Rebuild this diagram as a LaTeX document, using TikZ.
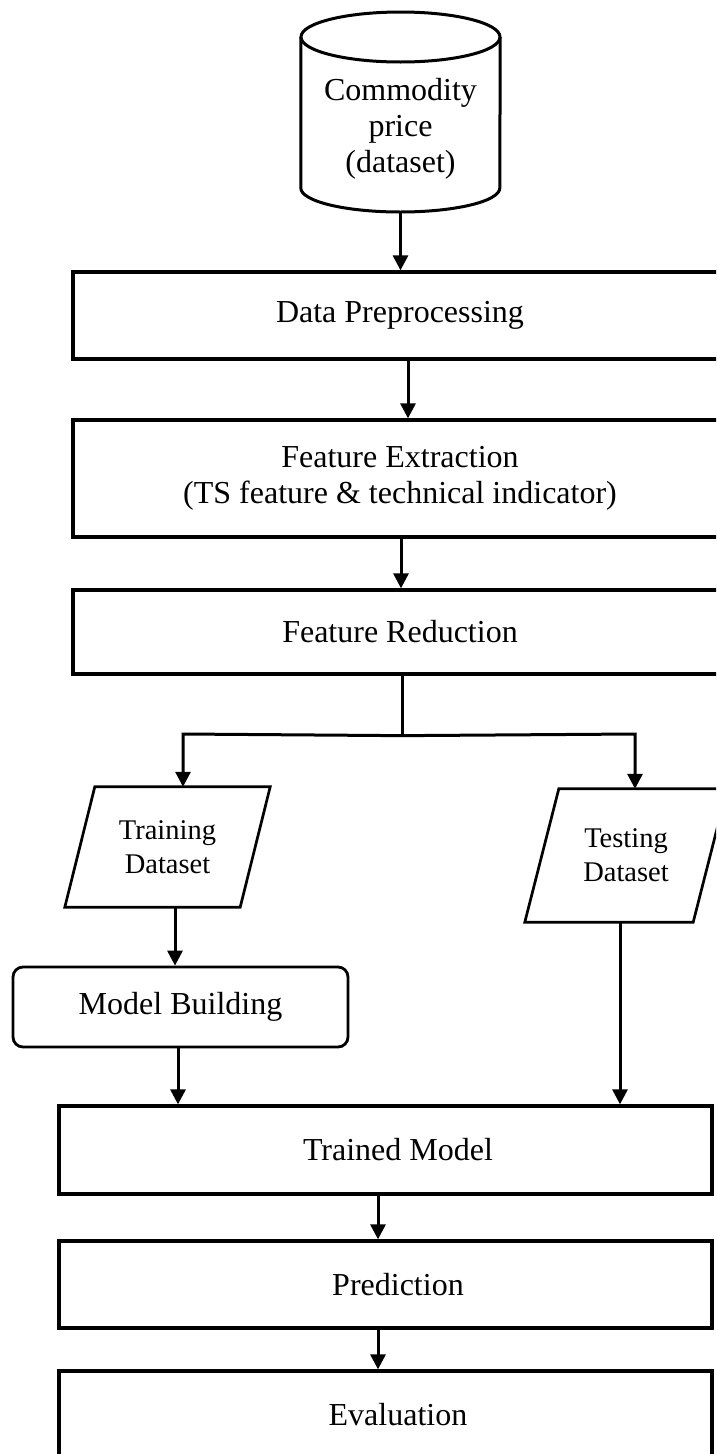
\documentclass[tikz,border=0pt]{standalone}
\usepackage{fontspec}
\setmainfont{Liberation Serif}
\usetikzlibrary{arrows.meta,calc}
\begin{document}
\begin{tikzpicture}[x=1pt,y=1pt,
  every node/.style={inner sep=0pt},
  bigtext/.style={font=\fontsize{32}{36}\selectfont, align=center},
  smalltext/.style={font=\fontsize{28.5}{34}\selectfont, align=center},
  stagebox/.style={bigtext, draw, line width=3.3pt},
  roundbox/.style={bigtext, draw, line width=2.8pt, rounded corners=10pt},
  outline/.style={line width=2.7pt, line join=miter},
  link/.style={line width=3pt},
  flow/.style={link, -{Triangle[width=15pt,length=15pt]}},
]
\fill[white] (0,0) rectangle (716,-1454);
\useasboundingbox (0,0) rectangle (716,-1454);
\clip (0,0) rectangle (716,-1454);

% source database (cylinder)
\node[minimum width=199pt, minimum height=200pt] (cyl) at (400.5,-112) {};
\node[bigtext] (cyltxt) at (400.5,-129) {Commodity\\price\\(dataset)};
\draw[link] (400.5,-37) ellipse [x radius=99.5, y radius=25];
\draw[link] (cyl.west |- 0,-37) -- (cyl.west |- 0,-188)
  arc[start angle=180, end angle=360, x radius=99.5, y radius=24]
  -- (cyl.east |- 0,-37);

% processing stages
\node[stagebox, minimum width=654pt, minimum height=87pt] (dp) at (400,-315.5) {\raisebox{-4pt}{Data Preprocessing}};
\node[stagebox, minimum width=654pt, minimum height=117pt] (fe) at (400,-478.5)
  {\raisebox{-4pt}{Feature Extraction}\\\raisebox{-4pt}{(TS feature \& technical indicator)}};
\node[stagebox, minimum width=654pt, minimum height=84pt] (fr) at (400,-632) {Feature Reduction};

% data sets (parallelograms)
\node[smalltext, minimum width=175pt, minimum height=120pt] (trn) at (167.5,-847) {\raisebox{-3pt}{Training}\\\raisebox{-3pt}{Dataset}};
\draw[outline] ($(trn.north west)+(15,0)$) -- ($(trn.north east)+(15,0)$)
  -- ($(trn.south east)+(-15,0)$) -- ($(trn.south west)+(-15,0)$) -- cycle;
\node[smalltext, minimum width=168pt, minimum height=133pt] (tsn) at (626,-855.5) {\raisebox{-4pt}{Testing}\\\raisebox{-4pt}{Dataset}};
\draw[outline] ($(tsn.north west)+(17,0)$) -- ($(tsn.north east)+(17,0)$)
  -- ($(tsn.south east)+(-17,0)$) -- ($(tsn.south west)+(-17,0)$) -- cycle;

% modelling and results
\node[roundbox, minimum width=335pt, minimum height=80pt] (mb) at (180.5,-1007) {Model Building};
\node[stagebox, minimum width=653pt, minimum height=88pt] (tm) at (385.5,-1150) {\hspace*{25pt}Trained Model};
\node[stagebox, minimum width=653pt, minimum height=87pt] (pr) at (385.5,-1284.5) {\hspace*{25pt}Prediction};
\node[stagebox, minimum width=653pt, minimum height=88pt] (ev) at (385.5,-1415) {\hspace*{25pt}Evaluation};

% connectors
\draw[flow] (cyl.south) -- (cyl.south |- dp.north);
\draw[flow] ($(dp.south)+(8,0)$) -- ($(dp.south |- fe.north)+(8,0)$);
\draw[flow] ($(fe.south)+(1,0)$) -- ($(fe.south |- fr.north)+(1,0)$);
\coordinate (split) at ($(fr.south)+(2,-60)$);
\coordinate (splitL) at (183,-734);
\coordinate (splitR) at (635,-734);
\draw[link] ($(fr.south)+(2,0)$) -- (split);
\draw[flow] (split) -- (splitL) -- (splitL |- trn.north);
\draw[flow] (split) -- (splitR) -- (splitR |- tsn.north);
\draw[flow] ($(trn.south)+(7.5,0)$) -- ($(trn.south |- mb.north)+(7.5,0)$);
\draw[flow] ($(mb.south)+(-2.5,0)$) -- ($(mb.south |- tm.north)+(-2.5,0)$);
\draw[flow] ($(tsn.south)+(-6,0)$) -- ($(tsn.south |- tm.north)+(-6,0)$);
\draw[flow] ($(tm.south)+(-7.5,0)$) -- ($(tm.south |- pr.north)+(-7.5,0)$);
\draw[flow] ($(pr.south)+(-7.5,0)$) -- ($(pr.south |- ev.north)+(-7.5,0)$);
\end{tikzpicture}
\end{document}
